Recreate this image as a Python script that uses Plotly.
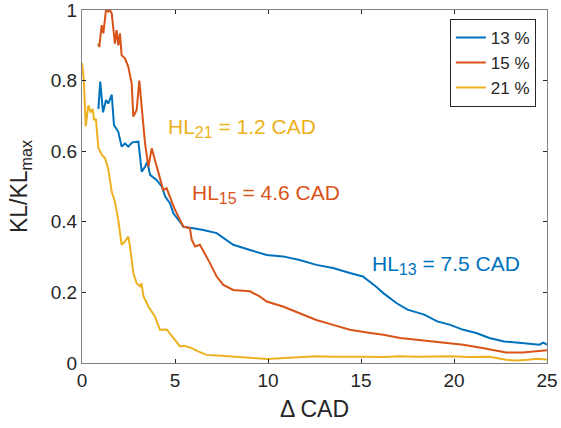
import plotly.graph_objects as go

x21 = [0, 0.1, 0.2, 0.34, 0.47, 0.57, 0.65, 0.75, 0.88, 1.06, 1.24, 1.41, 1.6, 1.77, 1.95, 2.13, 2.31, 2.49, 2.58, 2.76, 2.94, 3.12, 3.2, 3.3, 3.57, 3.92, 4.19, 4.55, 4.91, 5.27, 5.5, 5.9, 6.24, 6.7, 7.3, 8.1, 9.0, 9.93, 10.8, 11.7, 12.6, 13.5, 14.4, 15.3, 16.2, 17.1, 18.0, 18.9, 19.8, 20.8, 21.9, 22.8, 23.4, 24.0, 24.4, 25]
y21 = [0.85, 0.80, 0.67, 0.73, 0.71, 0.72, 0.69, 0.69, 0.61, 0.59, 0.58, 0.55, 0.485, 0.457, 0.405, 0.335, 0.344, 0.358, 0.33, 0.255, 0.226, 0.217, 0.226, 0.19, 0.16, 0.132, 0.094, 0.095, 0.071, 0.047, 0.049, 0.042, 0.033, 0.023, 0.021, 0.019, 0.015, 0.011, 0.014, 0.016, 0.019, 0.018, 0.019, 0.018, 0.017, 0.019, 0.018, 0.019, 0.019, 0.017, 0.018, 0.009, 0.007, 0.009, 0.012, 0.01]

x13 = [0.88, 0.98, 1.13, 1.29, 1.41, 1.6, 1.72, 1.95, 2.13, 2.31, 2.49, 2.7, 3.03, 3.21, 3.39, 3.51, 3.66, 4.02, 4.29, 4.48, 4.73, 4.91, 5.27, 5.45, 5.98, 6.52, 7.24, 8.13, 9.03, 9.93, 10.8, 11.7, 12.6, 13.5, 14.4, 15.1, 15.8, 16.2, 16.9, 17.5, 18.4, 19.1, 19.8, 20.5, 21.2, 21.9, 22.7, 23.4, 24.1, 24.6, 24.8, 25]
y13 = [0.72, 0.797, 0.71, 0.745, 0.735, 0.76, 0.674, 0.655, 0.613, 0.622, 0.613, 0.625, 0.627, 0.542, 0.556, 0.57, 0.533, 0.518, 0.5, 0.471, 0.453, 0.424, 0.40, 0.386, 0.382, 0.377, 0.368, 0.335, 0.32, 0.306, 0.302, 0.292, 0.278, 0.269, 0.255, 0.245, 0.217, 0.198, 0.170, 0.151, 0.137, 0.118, 0.108, 0.094, 0.085, 0.071, 0.061, 0.058, 0.056, 0.052, 0.058, 0.052]

x15 = [0.88, 0.93, 1.06, 1.15, 1.29, 1.41, 1.5, 1.6, 1.77, 1.86, 1.95, 2.04, 2.13, 2.31, 2.49, 2.67, 2.76, 2.94, 3.08, 3.21, 3.39, 3.57, 3.75, 3.92, 4.19, 4.37, 4.55, 4.73, 5.0, 5.45, 5.8, 5.9, 6.08, 6.34, 6.6, 6.88, 7.24, 7.6, 8.13, 9.03, 9.57, 9.93, 10.8, 11.7, 12.6, 13.5, 14.4, 15.5, 16.2, 17.1, 18.9, 20.5, 21.6, 22.8, 23.7, 25]
y15 = [0.905, 0.895, 0.957, 0.934, 1.0, 0.995, 1.0, 0.99, 0.905, 0.943, 0.9, 0.934, 0.872, 0.863, 0.839, 0.792, 0.698, 0.717, 0.80, 0.717, 0.622, 0.556, 0.608, 0.575, 0.523, 0.49, 0.495, 0.471, 0.434, 0.386, 0.382, 0.349, 0.33, 0.335, 0.311, 0.283, 0.245, 0.221, 0.207, 0.203, 0.188, 0.174, 0.16, 0.141, 0.122, 0.108, 0.094, 0.085, 0.08, 0.071, 0.061, 0.052, 0.042, 0.03, 0.03, 0.036]

names = ["13 %", "15 %", "21 %"]
colors = ["#0072BD", "#D95319", "#EDB120"]
hl_subs = ["13", "15", "21"]
hl_vals = ["7.5", "4.6", "1.2"]
label_pos = [(15.5, 0.278), (5.8, 0.48), (4.5, 0.666)]

xtick = [0, 5, 10, 15, 20, 25]
ytick = [0, 0.2, 0.4, 0.6, 0.8, 1]
ytext = ["0", "0.2", "0.4", "0.6", "0.8", "1"]

FONT = "Liberation Sans, Arial, Helvetica, sans-serif"
DARK = "#262626"

fig = go.Figure()
for xs, ys, n, c in zip([x13, x15, x21], [y13, y15, y21], names, colors):
    fig.add_trace(go.Scatter(x=xs, y=ys, mode="lines", name=n,
                             line=dict(color=c, width=2)))

for s, v, (px, py), c in zip(hl_subs, hl_vals, label_pos, colors):
    t = f"HL<sub><span style='font-size:16px'>{s}</span></sub> = {v} CAD"
    fig.add_annotation(x=px, y=py, xref="x", yref="y", text=t, showarrow=False,
                       xanchor="left", yanchor="middle",
                       font=dict(family=FONT, size=21, color=c))

axis_common = dict(showline=True, linecolor="#808080", linewidth=1, mirror="ticks",
                   ticks="inside", ticklen=4, tickcolor=DARK, showgrid=False,
                   zeroline=False, automargin=False, ticklabeloverflow="allow",
                   tickfont=dict(family=FONT, size=19, color=DARK))

fig.update_xaxes(range=[0, 25], tickvals=xtick, ticktext=[str(v) for v in xtick],
                 title=dict(text="Δ CAD", font=dict(family=FONT, size=23, color=DARK), standoff=11),
                 **axis_common)
fig.update_yaxes(range=[0, 1], tickvals=ytick, ticktext=ytext,
                 title=dict(text="KL/KL<sub>max</sub>", font=dict(family=FONT, size=23, color=DARK), standoff=16),
                 **axis_common)

fig.update_layout(
    width=561, height=428,
    margin=dict(l=82, r=14, t=10, b=65),
    plot_bgcolor="white", paper_bgcolor="white",
    legend=dict(x=0.976, y=0.975, xanchor="right", yanchor="top",
                bordercolor=DARK, borderwidth=1, bgcolor="white",
                font=dict(family=FONT, size=17, color=DARK),
                tracegroupgap=0, itemwidth=30),
    showlegend=True,
)

fig.write_html("out.html", config={"displayModeBar": False},
               post_script="document.body.style.margin='0';document.body.style.padding='0';")
